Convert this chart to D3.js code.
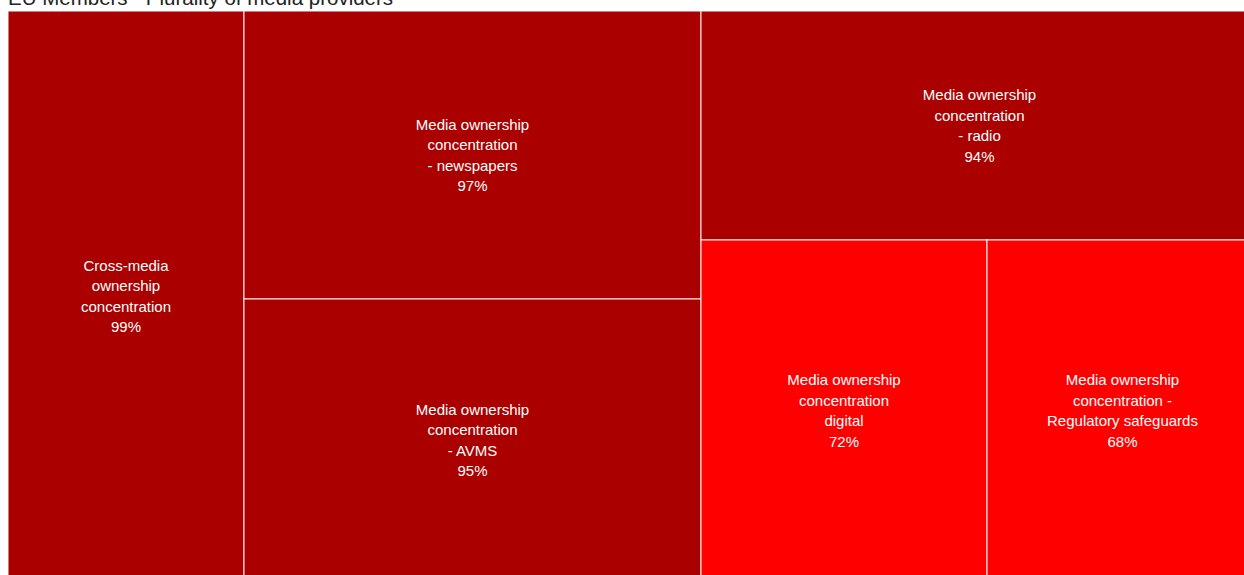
<!DOCTYPE html>
<html>
<head>
<meta charset="utf-8">
<script src="https://cdn.jsdelivr.net/npm/d3@7"></script>
<style>
  html, body { margin: 0; padding: 0; background: #fff; overflow: hidden; }
  svg { display: block; }
</style>
</head>
<body>
<svg id="chart" width="1244" height="575"></svg>
<script>
// Plurality of media providers: risk score per indicator, EU members
const title = "EU Members - Plurality of media providers";
const indicators = [
  "Cross-media\nownership\nconcentration",
  "Media ownership\nconcentration\n- newspapers",
  "Media ownership\nconcentration\n- AVMS",
  "Media ownership\nconcentration\n- radio",
  "Media ownership\nconcentration\ndigital",
  "Media ownership\nconcentration -\nRegulatory safeguards"
];
const scores = [99, 97, 95, 94, 72, 68];
const colorBreaks = [80];
const colorRange = ["#ff0000", "#aa0000"];

const svg = d3.select("#chart");
const margin = { left: 8, top: 11 };
const width = 1250, height = 570;

svg.append("text")
  .attr("x", 8)
  .attr("y", 5)
  .attr("font-family", "Liberation Sans, Arial, sans-serif")
  .attr("font-size", 20.5)
  .attr("fill", "#222")
  .text(title);

const color = d3.scaleThreshold().domain(colorBreaks).range(colorRange);

const root = d3.hierarchy({
  children: indicators.map((name, i) => ({ name, value: scores[i] }))
}).sum(d => d.value || 0);

d3.treemap()
  .tile(d3.treemapBinary)
  .size([width, height])
  .round(true)(root);

const g = svg.append("g").attr("transform", `translate(${margin.left},${margin.top})`);

const cell = g.selectAll("g.cell")
  .data(root.leaves())
  .join("g")
  .attr("class", "cell");

cell.append("rect")
  .attr("x", d => d.x0)
  .attr("y", d => d.y0)
  .attr("width", d => d.x1 - d.x0)
  .attr("height", d => d.y1 - d.y0)
  .attr("fill", d => color(d.data.value))
  .attr("stroke", "#fff")
  .attr("stroke-opacity", 0.8)
  .attr("stroke-width", 1.2);

const lineH = 20.5;
cell.each(function(d) {
  const lines = d.data.name.split("\n").concat([d.data.value + "%"]);
  const cx = (d.x0 + d.x1) / 2;
  const cy = (d.y0 + d.y1) / 2;
  const top = cy - (lines.length - 1) * lineH / 2;
  const t = d3.select(this).append("text")
    .attr("text-anchor", "middle")
    .attr("font-family", "Liberation Sans, Arial, sans-serif")
    .attr("font-size", 15)
    .attr("fill", "#fff");
  lines.forEach((ln, i) => {
    t.append("tspan")
      .attr("x", cx)
      .attr("y", top + i * lineH)
      .attr("dy", "0.35em")
      .text(ln);
  });
});
</script>
</body>
</html>
